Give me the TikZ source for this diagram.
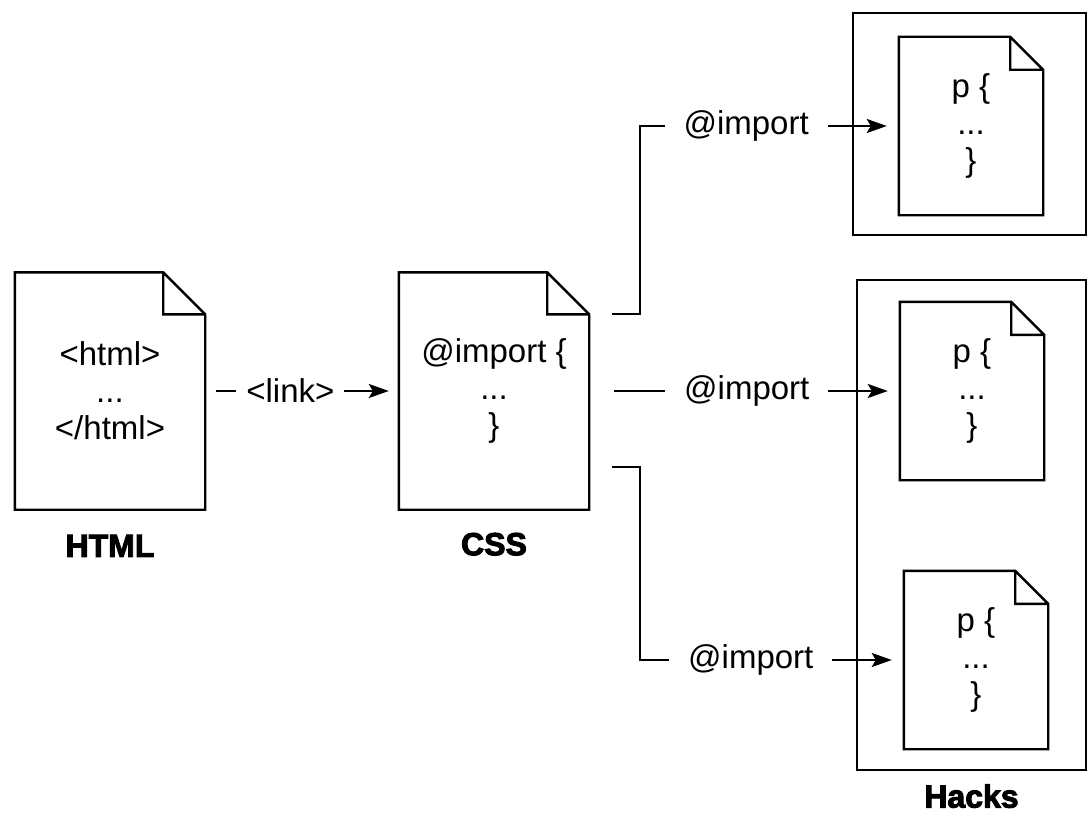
\documentclass[tikz,border=0pt]{standalone}
\usepackage{fontspec}
\setmainfont{Liberation Sans}
\newfontfamily\heavyfont{Liberation Sans}[BoldFeatures={FakeBold=3}]
\usetikzlibrary{arrows.meta, positioning}

\newcommand\doctext{\fontsize{33}{37}\selectfont}
\newcommand\titletext{\fontsize{32}{36}\selectfont\heavyfont\bfseries}

\begin{document}
\begin{tikzpicture}[x=1pt, y=-1pt, line width=2.4pt,
    link/.style={-{Stealth[length=20pt, width=14pt, inset=4pt]}},
    bigdoc/.style={minimum width=188pt, minimum height=235pt, inner sep=0pt,
                   align=center, font=\doctext},
    smalldoc/.style={minimum width=142pt, minimum height=176pt, inner sep=0pt,
                     align=center, font=\doctext},
    wrapbox/.style={draw, inner sep=0pt},
    title/.style={font=\titletext, inner sep=0pt},
    tag/.style={fill=white, inner xsep=19pt, inner ysep=2pt, font=\doctext}]
\path[use as bounding box, clip] (0,0) rectangle (1088,816);

% the two boxes on the right
\node[wrapbox, minimum width=233pt, minimum height=222pt] (single) at (969.5,124) {};
\node[wrapbox, minimum width=229pt, minimum height=490pt] (hacks) at (971.5,525) {};

% the pages
\node[bigdoc] (html) at (110,391) {<html>\\...\\</html>};
\node[bigdoc] (css) at (494,391) {@import \{\\...\\\}};
\node[smalldoc] (pa) at (971,126) {p \{\\...\\\}};
\node[smalldoc] (pb) at (972,391) {p \{\\...\\\}};
\node[smalldoc] (pc) at (976,660) {p \{\\...\\\}};

\foreach \n/\f in {html/42pt, css/42pt, pa/33pt, pb/33pt, pc/33pt}
    \draw[line join=miter] (\n.south west) -- (\n.north west)
        -- ([xshift=-\f]\n.north east) -- ([yshift=-\f]\n.north east)
        -- (\n.south east) -- cycle
        ([xshift=-\f]\n.north east) |- ([yshift=-\f]\n.north east);

\node[title, below=24pt of html] (htmltitle) {HTML};
\node[title, below=22pt of css] (csstitle) {CSS};
\node[title, below=12pt of hacks] (hackstitle) {Hacks};

% connectors
\coordinate (ta) at (612,314);
\coordinate (tb) at (614,391);
\coordinate (tc) at (612,467);

\draw[link] ([xshift=11pt]html.east) -- node[tag, inner xsep=10pt, pos=0.43] {<link>}
    ([xshift=-10pt]css.west);
\draw[link] (ta) -- ++(28,0) |- node[tag, pos=0.715] {@import} ([xshift=-12pt]pa.west);
\draw[link] (tb) -- node[tag, pos=0.485] {@import} ([xshift=-12pt]pb.west);
\draw[link] (tc) -- ++(28,0) |- node[tag, pos=0.72] {@import} ([xshift=-12pt]pc.west);
\end{tikzpicture}
\end{document}
